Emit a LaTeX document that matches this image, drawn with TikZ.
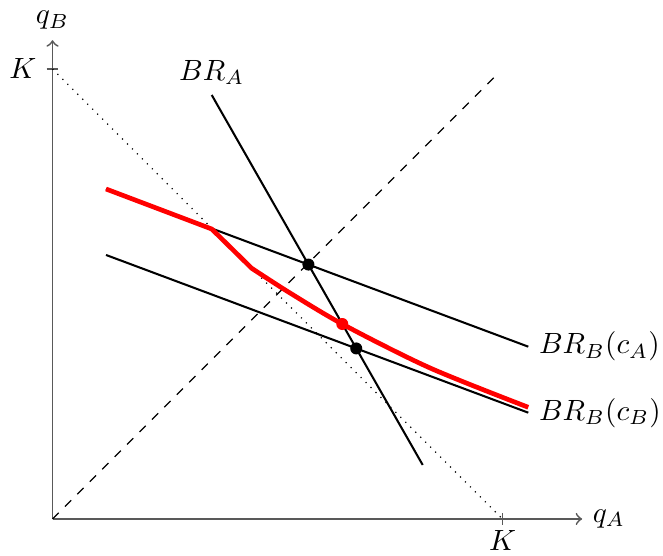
\documentclass[tikz,border=0pt]{standalone}
\usetikzlibrary{intersections}

\begin{document}
\begin{tikzpicture}[
            x=0.54cm, y=0.54cm,
            axis/.style={semithick, black!65, ->},
            tick/.style={semithick, black!65},
            br/.style={black, line width=0.7pt},
            resp/.style={red, ultra thick, line join=round},
            eq/.style={circle, fill=#1, inner sep=0pt, minimum size=4.1pt},
            eq/.default=black
        ]
        \useasboundingbox (-1.167,-0.822) rectangle (13.567,11.533);

        % --- Axes ---
        \coordinate (O) at (0,0);
        \coordinate (xmax) at (11.77,0);
        \coordinate (ymax) at (0,10.64);
        \coordinate (kx) at (10,0);
        \coordinate (ky) at (0,10);
        \draw[axis] (O) -- (xmax) node[right, black] (qa) {$q_A$};
        \draw[axis] (O) -- (ymax) node[above, black] (qb) {$q_B$};
        \draw[tick] ([yshift=-2pt]kx) -- ([yshift=2pt]kx);
        \node[below=0.5pt] (lkx) at (kx) {$K$};
        \draw[tick] ([xshift=-2pt]ky) -- ([xshift=2pt]ky);
        \node[left=2pt] (lky) at (ky) {$K$};

        % --- Capacity and 45 degree line ---
        \draw[dotted] (ky) -- (kx);
        \coordinate (diag) at (9.9,9.9);
        \draw[dashed] (O) -- (diag);

        % --- Best responses ---
        \coordinate (a1) at (3.538,9.422);
        \coordinate (a2) at (8.227,1.2);
        \draw[br, name path=bra] (a1) -- (a2);
        \node[above] (lbra) at (a1) {$BR_A$};

        \coordinate (b1) at (1.189,7.333);
        \coordinate (b2) at (10.573,3.829);
        \draw[br, name path=brbA] (b1) -- (b2) node[right] (lbrbA) {$BR_B(c_A)$};

        \coordinate (c1) at (1.189,5.867);
        \coordinate (c2) at (10.573,2.362);
        \draw[br, name path=brbB] (c1) -- (c2) node[right] (lbrbB) {$BR_B(c_B)$};

        % --- Response with capacity ---
        \coordinate (r1) at (3.538,6.444);
        \coordinate (r2) at (4.427,5.571);
        \draw[resp, name path=resp] (b1) -- (r1) -- (r2)
            -- plot[smooth, tension=0.5] coordinates {(4.427,5.571) (5.278,5.022) (6.478,4.311) (8.389,3.356) (10.573,2.482)};

        % --- Equilibria ---
        \path[name intersections={of=bra and brbA, by=e1}];
        \path[name intersections={of=bra and brbB, by=e2}];
        \path[name intersections={of=bra and resp, by=e3}];
        \node[eq] (n1) at (e1) {};
        \node[eq] (n2) at (e2) {};
        \node[eq=red] (n3) at (e3) {};

    \end{tikzpicture}
\end{document}
